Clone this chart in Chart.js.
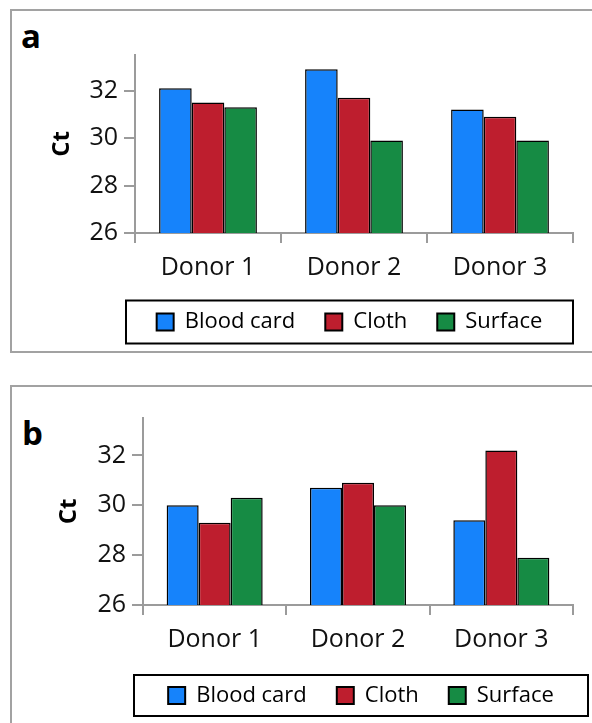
<!DOCTYPE html>
<html>
<head>
<meta charset="utf-8">
<script src="https://cdn.jsdelivr.net/npm/chart.js@4.4.1/dist/chart.umd.min.js"></script>
<style>
    html, body { margin: 0; padding: 0; background: #fff; overflow: hidden; }
    body { width: 592px; height: 723px; position: relative; font-family: "Open Sans", sans-serif; }
    .frame { position: absolute; border: 2px solid #a2a2a2; box-sizing: border-box; }
    .panel { position: absolute; left: 0; width: 592px; }
    .tag { position: absolute; font-weight: 700; font-size: 33px; line-height: 1; color: #000; }
</style>
</head>
<body>
<div class="frame" style="left:10px; top:9px; width:700px; height:344px;"></div>
<div class="frame" style="left:10px; top:385px; width:700px; height:400px;"></div>
<div class="tag" style="left:21px; top:19px;">a</div>
<div class="tag" style="left:22px; top:416px;">b</div>
<div class="panel" style="top:0; height:352px;"><canvas id="chart-a"></canvas></div>
<div class="panel" style="top:376px; height:347px;"><canvas id="chart-b"></canvas></div>

<script>
const donors      = ['Donor 1', 'Donor 2', 'Donor 3'];
const seriesNames = ['Blood card', 'Cloth', 'Surface'];
const yTicks      = [26, 28, 30, 32];
const yMin = 26;
const yMax = 33.5;

// panel a
const bloodCardA = [32.1, 32.9, 31.2];
const clothA     = [31.5, 31.7, 30.9];
const surfaceA   = [31.3, 29.9, 29.9];

// panel b
const bloodCardB = [30.0, 30.7, 29.4];
const clothB     = [29.3, 30.9, 32.2];
const surfaceB   = [30.3, 30.0, 27.9];

const barColors = ['#1683fb', '#be1e2e', '#168b44'];
const axisGrey  = '#9b9b9b';

Chart.defaults.font.family = '"Open Sans", sans-serif';
Chart.defaults.color = '#111';

// moves the legend to its place and draws the box round it
const legendFrame = {
    id: 'legendFrame',
    afterLayout(chart, args, opts) {
        const lg = chart.legend;
        const dx = opts.cx - (lg.left + lg.right) / 2;
        lg.left  += dx;
        lg.right += dx;
    },
    afterDraw(chart, args, opts) {
        const boxes = chart.legend.legendHitBoxes;
        if (!boxes || !boxes.length) return;
        const first = boxes[0];
        const last  = boxes[boxes.length - 1];
        const cx = (first.left + last.left + last.width) / 2;
        const cy = first.top + first.height / 2;
        const ctx = chart.ctx;
        ctx.save();
        ctx.strokeStyle = '#000';
        ctx.lineWidth = 2;
        ctx.strokeRect(cx - opts.w / 2, cy - opts.h / 2, opts.w, opts.h);
        ctx.restore();
    },
};

function buildChart(id, values, g) {
    return new Chart(document.getElementById(id), {
        type: 'bar',
        data: {
            labels: donors,
            datasets: seriesNames.map((name, i) => ({
                label: name,
                data: values[i],
                backgroundColor: barColors[i],
                borderColor: '#000',
                borderWidth: 1.5,
            })),
        },
        options: {
            responsive: true,
            maintainAspectRatio: false,
            animation: false,
            layout: { padding: { top: g.padTop, right: 19, bottom: g.padBottom, left: 0 } },
            datasets: { bar: { categoryPercentage: 0.67, barPercentage: 1 } },
            plugins: {
                tooltip: { enabled: false },
                legend: {
                    position: 'bottom',
                    labels: {
                        boxWidth: 17,
                        boxHeight: 17,
                        padding: 30,
                        color: '#000',
                        font: { size: 22 },
                        generateLabels: chart =>
                            Chart.defaults.plugins.legend.labels.generateLabels(chart)
                                .map(item => ({ ...item, lineWidth: 2 })),
                    },
                },
                legendFrame: { cx: g.legendCx, w: g.legendW, h: g.legendH },
            },
            scales: {
                x: {
                    grid: { offset: true, drawOnChartArea: false, tickLength: 10, color: axisGrey, lineWidth: 2 },
                    border: { color: axisGrey, width: 2 },
                    ticks: { font: { size: 25 }, padding: 10 },
                    afterFit: s => { s.height = g.xHeight; },
                },
                y: {
                    min: yMin,
                    max: yMax,
                    afterBuildTicks: s => { s.ticks = yTicks.map(v => ({ value: v })); },
                    grid: { drawOnChartArea: false, tickLength: 11, color: axisGrey, lineWidth: 2 },
                    border: { color: axisGrey, width: 2 },
                    ticks: { font: { size: 25 }, padding: 6 },
                    title: {
                        display: true,
                        text: 'Ct',
                        color: '#000',
                        font: { size: 24, weight: 'bold' },
                        padding: { top: g.titlePad, bottom: 0 },
                    },
                    afterFit: s => { s.width = g.yWidth; },
                },
            },
        },
        plugins: [legendFrame],
    });
}

buildChart('chart-a', [bloodCardA, clothA, surfaceA], {
    padTop: 55, padBottom: 9, xHeight: 48, yWidth: 135, titlePad: 48,
    legendCx: 349.5, legendW: 447, legendH: 43,
});

buildChart('chart-b', [bloodCardB, clothB, surfaceB], {
    padTop: 42, padBottom: 6.5, xHeight: 49.5, yWidth: 143, titlePad: 55,
    legendCx: 361, legendW: 454, legendH: 41,
});
</script>
</body>
</html>
